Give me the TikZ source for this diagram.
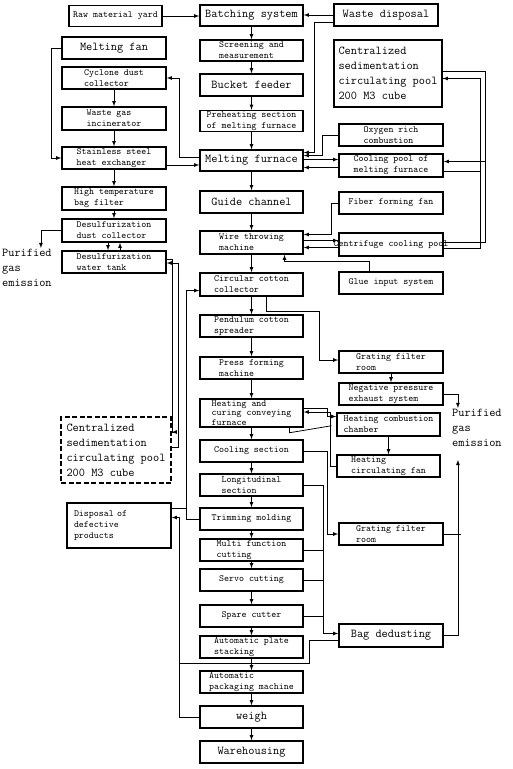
\documentclass[tikz,border=0pt]{standalone}
\usepackage{fontspec}
\usetikzlibrary{arrows}
\usetikzlibrary{calc,positioning}

\begin{document}
\begin{tikzpicture}[x=1pt, y=-1pt, >=latex]
	\tikzstyle{unit}=[draw, line width=1.5pt, inner sep=1pt, align=left,
	font=\ttfamily\fontsize{9.5}{11}\selectfont]
	\tikzstyle{bigunit}=[unit, font=\ttfamily\fontsize{12}{15}\selectfont]
	\tikzstyle{mainbox}=[minimum width=103, minimum height=22]
	\tikzstyle{sidebox}=[minimum width=104, minimum height=22]
	\tikzstyle{pipe}=[line width=0.8pt]
	\tikzstyle{note}=[align=left, inner sep=1pt, font=\ttfamily\fontsize{12}{15}\selectfont]

	\useasboundingbox (0,0) rectangle (512,769);

	% main line
	\node[bigunit, mainbox, minimum height=21] (batch) at (251.5,15.5) {Batching system};
	\node[unit, mainbox, minimum height=21] (screen) at (251.5,50.5) {Screening and\\measurement};
	\node[bigunit, mainbox] (bucket) at (251.5,85) {Bucket feeder};
	\node[unit, mainbox, minimum height=20] (preheat) at (251.5,121) {Preheating section\\of melting furnace};
	\node[bigunit, mainbox, minimum height=21] (furnace) at (251.5,160.5) {Melting furnace};
	\node[bigunit, mainbox] (guide) at (251.5,202) {Guide channel};
	\node[unit, mainbox, minimum height=23] (wire) at (251.5,242.5) {Wire throwing\\machine};
	\node[unit, mainbox, minimum height=23] (circ) at (251.5,284.5) {Circular cotton\\collector};
	\node[unit, mainbox] (pend) at (251.5,326) {Pendulum cotton\\spreader};
	\node[unit, mainbox] (press) at (251.5,368) {Press forming\\machine};
	\node[unit, mainbox, minimum height=28, inner ysep=0, font=\ttfamily\fontsize{9.5}{9.5}\selectfont] (heat) at (251.5,413) {Heating and\\curing conveying\\furnace};
	\node[unit, mainbox] (cool) at (251.5,451) {Cooling section};
	\node[unit, mainbox] (longi) at (251.5,485) {Longitudinal\\section};
	\node[unit, mainbox] (trim) at (251.5,519) {Trimming molding};
	\node[unit, mainbox] (multi) at (251.5,550) {Multi function\\cutting};
	\node[unit, mainbox] (servo) at (251.5,580) {Servo cutting};
	\node[unit, mainbox] (spare) at (251.5,616) {Spare cutter};
	\node[unit, mainbox] (stack) at (251.5,647) {Automatic plate\\stacking};
	\node[unit, mainbox] (pack) at (251.5,682) {Automatic\\packaging machine};
	\node[bigunit, mainbox] (weigh) at (251.5,717) {weigh};
	\node[bigunit, mainbox] (ware) at (251.5,752) {Warehousing};

	% left side
	\node[unit, minimum width=93, minimum height=21] (raw) at (115.5,16) {Raw material yard};
	\node[bigunit, sidebox] (mfan) at (114,48) {Melting fan};
	\node[unit, sidebox] (cyclone) at (114,78) {Cyclone dust\\collector};
	\node[unit, sidebox, minimum height=23] (wgas) at (114,118.5) {Waste gas\\incinerator};
	\node[unit, sidebox] (exch) at (114,158) {Stainless steel\\heat exchanger};
	\node[unit, sidebox, minimum height=23] (bagf) at (114,198.5) {High temperature\\bag filter};
	\node[unit, sidebox, minimum height=23] (desdust) at (114,230.5) {Desulfurization\\dust collector};
	\node[unit, sidebox] (tank) at (114,262) {Desulfurization\\water tank};
	\node[note, anchor=west] (purL) at (1,268) {Purified\\gas\\emission};
	\node[bigunit, dash pattern=on 5pt off 2.5pt, minimum width=110, minimum height=66] (dpool) at (116,450) {Centralized\\sedimentation\\circulating pool\\200 M3 cube};
	\node[unit, sidebox, minimum height=45, text width=90] (defect) at (119,525.5) {Disposal of\\defective\\products};

	% right side
	\node[bigunit, sidebox] (waste) at (386,15) {Waste disposal};
	\node[bigunit, minimum width=108, minimum height=67] (cpool) at (388,73.5) {Centralized\\sedimentation\\circulating pool\\200 M3 cube};
	\node[unit, sidebox] (oxy) at (391,135) {Oxygen rich\\combustion};
	\node[unit, sidebox, minimum height=23] (coolp) at (391,165.5) {Cooling pool of\\melting furnace};
	\node[unit, sidebox] (fiber) at (391,203) {Fiber forming fan};
	\node[unit, sidebox, minimum height=23, inner xsep=-6.5pt] (cfuge) at (391,244.5) {Centrifuge cooling pool};
	\node[unit, sidebox] (glue) at (391,283) {Glue input system};
	\node[unit, sidebox] (grate) at (391,362) {Grating filter\\room};
	\node[unit, sidebox] (negp) at (391,394) {Negative pressure\\exhaust system};
	\node[unit, sidebox, minimum width=103, minimum height=23] (hcomb) at (388.5,424.5) {Heating combustion\\chamber};
	\node[unit, sidebox, minimum width=103] (hfan) at (388.5,466) {Heating\\circulating fan};
	\node[unit, sidebox] (grate2) at (391,534) {Grating filter\\room};
	\node[bigunit, sidebox, minimum height=23] (bag) at (391,635.5) {Bag dedusting};
	\node[note, anchor=west] (purR) at (451,428) {Purified\\gas\\emission};

	% main flow
	\foreach \a/\b in {batch/screen, screen/bucket, bucket/preheat, preheat/furnace, furnace/guide,
		guide/wire, wire/circ, circ/pend, pend/press, press/heat, heat/cool, cool/longi,
		longi/trim, trim/multi, multi/servo, servo/spare, spare/stack, stack/pack, pack/weigh, weigh/ware}
		\draw[pipe, ->] (\a) -- (\b);
	\foreach \a/\b in {cyclone/wgas, wgas/exch, exch/bagf, bagf/desdust}
		\draw[pipe, ->] (\a) -- (\b);

	% batching
	\draw[pipe, ->] (raw.east) -- (raw.east -| batch.west);
	\draw[pipe, ->] (waste.west) -- (waste.west -| batch.east);
	\draw[pipe, ->] ([yshift=-7pt]waste.west) -- ++(-19,0) |- ([yshift=8pt]furnace.east);

	% furnace gas
	\draw[pipe, ->] ([yshift=3pt]furnace.west) -- ++(-20,0) |- (cyclone.east);
	\draw[pipe, ->] (mfan.west) -- ++(-10,0) |- (exch.west);
	\draw[pipe, ->] ([yshift=-7pt]exch.east) -- ([yshift=-7pt]exch.east -| furnace.west);
	\draw[pipe, ->] ([xshift=-6pt]desdust.south) -- ([xshift=-6pt]tank.north);
	\draw[pipe, ->] ([xshift=6pt]tank.north) -- ([xshift=6pt]desdust.south);
	\draw[pipe, ->] (desdust.west) -| ([xshift=14pt]purL.north);
	\draw[pipe, ->] ([yshift=3pt]tank.east) -- ++(6,0) |- ([yshift=18pt]dpool.east);
	\draw[pipe, ->] ([yshift=3pt]dpool.east) -- ++(7,0) |- ([yshift=-1pt]tank.east);

	% furnace water
	\draw[pipe, ->] (oxy.west) -- ++(-16,0) |- ([yshift=5pt]furnace.east);
	\draw[pipe, ->] ([yshift=1pt]furnace.east) -- ([yshift=1pt]furnace.east -| coolp.west);
	\draw[pipe, ->] ([yshift=-2pt]coolp.west) -- ([yshift=-2pt]coolp.west -| furnace.east);
	\draw[pipe, ->] ([yshift=2pt]cpool.east) -- ++(43,0) |- ([yshift=4pt]coolp.east);
	\draw[pipe] ([yshift=2pt]cpool.east) -- ++(43,0) |- ([yshift=2pt]cfuge.east);
	\draw[pipe, ->] ([yshift=-6pt]coolp.east) -- ++(37,0) |- ([yshift=-5pt]cpool.east);
	\draw[pipe] ([yshift=-4pt]cfuge.east) -- ++(37,0) |- ([yshift=-5pt]cpool.east);

	% fiber forming
	\draw[pipe, ->] (fiber.west) -- ++(-7,0) |- ([yshift=8pt]wire.east);
	\draw[pipe, ->] ([yshift=2pt]wire.east) -- ([yshift=2pt]wire.east -| cfuge.west);
	\draw[pipe, ->] ([yshift=-3pt]cfuge.west) -- ([yshift=-3pt]cfuge.west -| wire.east);
	\draw[pipe, ->] ([xshift=-22pt]glue.north) -- ++(0,-10) -| ([xshift=33pt]wire.south);
	\draw[pipe, ->] ([xshift=15pt]circ.south) -- ++(0,15) -- ++(53,0) |- ([yshift=2pt]grate.west);
	\draw[pipe, ->] (grate.south) -- (grate.south |- negp.north);
	\draw[pipe, ->] (negp.east) -| ([xshift=-19pt]purR.north);

	% curing
	\draw[pipe, ->] ([yshift=5pt]heat.east) -- ++(24,0) |- ([yshift=8pt]hcomb.west);
	\draw[pipe, ->] (hcomb.south) -- (hcomb.south |- hfan.north);
	\draw[pipe, ->] (hfan.west) -- ++(-6,0) |- ([yshift=1pt]heat.east);
	\draw[pipe] ([xshift=38pt]heat.south) -- ++(0,5) -- ++(42,-7);

	% dust
	\draw[pipe, ->] (cool.east) -- ++(24,0) |- (grate2.west);
	\draw[pipe, ->] (longi.east) -- ++(20,0) |- ([yshift=2pt]bag.west);
	\draw[pipe] (multi.east) -- ++(20,0);
	\draw[pipe] (servo.east) -- ++(20,0);
	\draw[pipe] (spare.east) -- ++(20,0);
	\draw[pipe] (grate2.east) -- ++(17,0);
	\draw[pipe, ->] (bag.east) -| ([xshift=-19pt,yshift=-12pt]purR.south);

	% waste and recycling
	\draw[pipe, ->] (trim.west) -- ++(-13,0) |- ([yshift=-6pt]circ.west);
	\draw[pipe] ([yshift=17.5pt]defect.east) -- ++(15.5,0);
	\draw[pipe, ->] (weigh.west) -- ++(-20,0) |- ([yshift=8pt]defect.east);
	\coordinate (rejbus) at ([xshift=-20pt]weigh.west);
	\draw[pipe] ([yshift=-5pt]bag.west) -- ++(-29,0) -- ++(0,22.5) -| (rejbus);
\end{tikzpicture}
\end{document}
